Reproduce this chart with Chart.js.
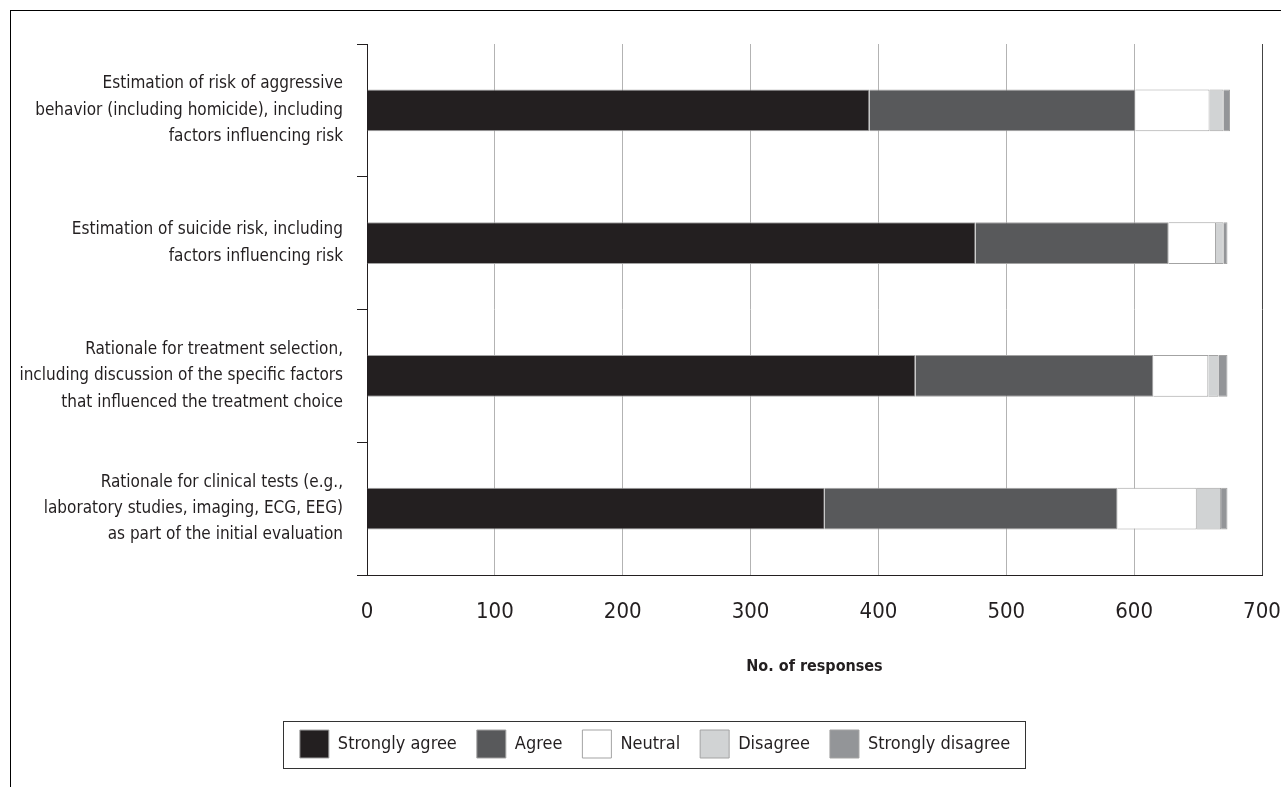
<!DOCTYPE html>
<html><head><meta charset="utf-8">
<script src="https://cdn.jsdelivr.net/npm/chart.js@4.4.0/dist/chart.umd.min.js"></script>
<style>
html,body{margin:0;padding:0;background:#fff;overflow:hidden;}
#frame{position:absolute;left:10px;top:10px;width:1400px;height:900px;border-left:1px solid #000;border-top:1px solid #000;}
#wrap{position:absolute;left:0;top:0;width:1281px;height:787px;}
</style></head><body>
<div id="frame"></div>
<div id="wrap"><canvas id="c" width="1281" height="787" style="width:1281px;height:787px"></canvas></div>
<script>
const categories = [
  ["Estimation of risk of aggressive", "behavior (including homicide), including", "factors influencing risk"],
  ["Estimation of suicide risk, including", "factors influencing risk"],
  ["Rationale for treatment selection,", "including discussion of the specific factors", "that influenced the treatment choice"],
  ["Rationale for clinical tests (e.g.,", "laboratory studies, imaging, ECG, EEG)", "as part of the initial evaluation"]
];
const seriesNames = ["Strongly agree", "Agree", "Neutral", "Disagree", "Strongly disagree"];
const stronglyAgree = [393, 476, 429, 358];
const agree = [208, 151, 186, 229];
const neutral = [58, 37, 43, 62];
const disagree = [11, 6, 8, 19];
const stronglyDisagree = [5, 3, 7, 5];
const xTicks = [0, 100, 200, 300, 400, 500, 600, 700];
const seriesColors = ["#231f20", "#58595b", "#ffffff", "#d1d3d4", "#939598"];

const FONT = "'Liberation Sans Narrow', 'DejaVu Sans Condensed', 'Arial Narrow', sans-serif";
const TXT = "#231f20";
const seriesValues = [stronglyAgree, agree, neutral, disagree, stronglyDisagree];

const legendFrame = {
  id: 'legendFrame',
  afterLayout(chart) {
    const lg = chart.legend;
    if (lg) { lg.left += 18; lg.right += 18; }
  },
  afterDraw(chart) {
    const lg = chart.legend;
    if (!lg || !lg.legendHitBoxes || !lg.legendHitBoxes.length) return;
    const hb = lg.legendHitBoxes;
    let l = Infinity, r = -Infinity;
    hb.forEach(b => { l = Math.min(l, b.left); r = Math.max(r, b.left + b.width); });
    const ctx = chart.ctx;
    ctx.save();
    ctx.strokeStyle = '#333';
    ctx.lineWidth = 1;
    const top = lg.top + 11, bottom = lg.top + 58;
    ctx.strokeRect(Math.round(l - 17) + 0.5, Math.round(top) + 0.5, Math.round(r - l + 32), Math.round(bottom - top));
    ctx.restore();
  }
};

new Chart(document.getElementById('c'), {
  type: 'bar',
  data: {
    labels: categories,
    datasets: seriesNames.map((n, i) => ({
      label: n,
      data: seriesValues[i],
      backgroundColor: seriesColors[i],
      borderColor: '#a3a3a3',
      borderWidth: 1,
      barPercentage: 0.316,
      categoryPercentage: 1
    }))
  },
  options: {
    indexAxis: 'y',
    responsive: false,
    animation: false,
    layout: { padding: { left: 12, right: 19, top: 44, bottom: 19 } },
    plugins: {
      tooltip: { enabled: false },
      legend: {
        position: 'bottom',
        labels: {
          boxWidth: 29, boxHeight: 28, padding: 20, color: TXT,
          font: { family: FONT, size: 18 }
        }
      }
    },
    scales: {
      x: {
        stacked: true, min: 0, max: 700,
        afterBuildTicks: s => { s.ticks = xTicks.map(v => ({ value: v })); },
        ticks: { padding: 24, color: TXT, font: { family: FONT, size: 22 } },
        grid: {
          drawTicks: false,
          color: c => (c.tick && c.tick.value === 700) ? '#444' : '#b3b3b3',
          lineWidth: 1
        },
        border: { color: TXT, width: 1 },
        title: {
          display: true, text: 'No. of responses', color: TXT,
          font: { family: FONT, size: 16, weight: 'bold' },
          padding: { top: 0, bottom: 34 }
        },
        afterFit: s => { s.height = 135; s.paddingLeft = 0; s.paddingRight = 0; }
      },
      y: {
        stacked: true,
        grid: { offset: true, drawOnChartArea: false, drawTicks: true, tickLength: 10, color: TXT, lineWidth: 1 },
        border: { color: TXT, width: 1 },
        ticks: { padding: 14, color: TXT, font: { family: FONT, size: 17, lineHeight: 1.55 } },
        afterFit: s => { s.width = 355; s.paddingTop = 0; s.paddingBottom = 0; }
      }
    }
  },
  plugins: [legendFrame]
});
</script>
</body></html>
